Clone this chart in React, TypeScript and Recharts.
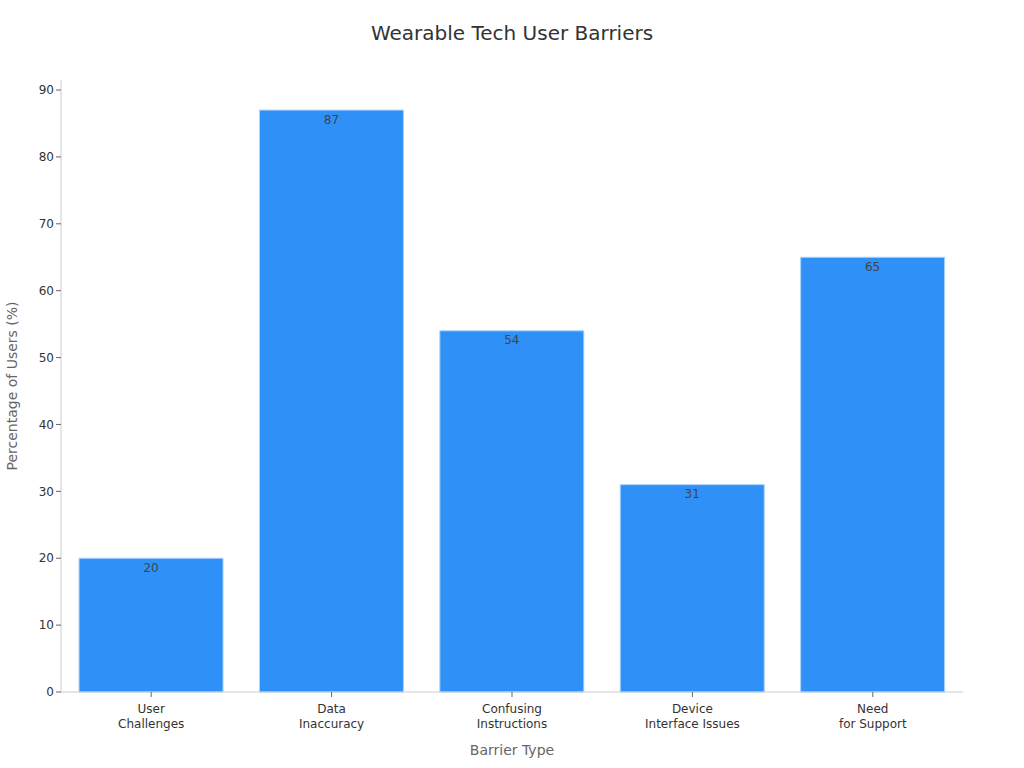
import { BarChart, Bar, XAxis, YAxis, LabelList } from "recharts"

const barriers = ["User\nChallenges", "Data\nInaccuracy", "Confusing\nInstructions", "Device\nInterface Issues", "Need\nfor Support"]
const userPercent = [20, 87, 54, 31, 65]
const yTicks = [0, 10, 20, 30, 40, 50, 60, 70, 80, 90]

const data = barriers.map((name, i) => ({ name, value: userPercent[i] }))

const FONT = "'DejaVu Sans', sans-serif"

function CategoryTick(props: any) {
  const { x, y, payload } = props
  const lines = String(payload.value).split("\n")
  return (
    <text x={x} y={y + 2} textAnchor="middle" fill="#333" fontSize={12} fontFamily={FONT}>
      {lines.map((line, i) => (
        <tspan key={i} x={x} dy={i === 0 ? 12 : 15}>
          {line}
        </tspan>
      ))}
    </text>
  )
}

export default function App() {
  return (
    <div style={{ position: "absolute", left: 0, top: 0, width: 1024, height: 768, background: "#fff", fontFamily: FONT }}>
      <div style={{ position: "absolute", top: 21, width: 1024, textAlign: "center", fontSize: 20, color: "#333" }}>
        Wearable Tech User Barriers
      </div>
      <BarChart width={1024} height={768} data={data} margin={{ top: 80, right: 61, bottom: 36, left: 0 }} barCategoryGap="10%">
        <XAxis
          dataKey="name"
          height={40}
          tick={<CategoryTick />}
          stroke="#ccc"
          tickLine={{ stroke: "#666" }}
          tickSize={5}
          interval={0}
          label={{ value: "Barrier Type", position: "insideBottom", offset: -23, fill: "#666", fontSize: 14, fontFamily: FONT }}
        />
        <YAxis
          width={61}
          domain={[0, 91.5]}
          ticks={yTicks}
          stroke="#ccc"
          tick={{ fill: "#333", fontSize: 12, fontFamily: FONT }}
          tickLine={{ stroke: "#666" }}
          tickSize={5}
          label={{ value: "Percentage of Users (%)", angle: -90, position: "insideLeft", offset: 12, fill: "#666", fontSize: 14, fontFamily: FONT, style: { textAnchor: "middle" } }}
        />
        <Bar dataKey="value" fill="#2f91f7" stroke="#a9d3fb" strokeWidth={1} isAnimationActive={false}>
          <LabelList dataKey="value" position="insideTop" offset={5} fill="#444" fontSize={12} fontFamily={FONT} />
        </Bar>
      </BarChart>
    </div>
  )
}
